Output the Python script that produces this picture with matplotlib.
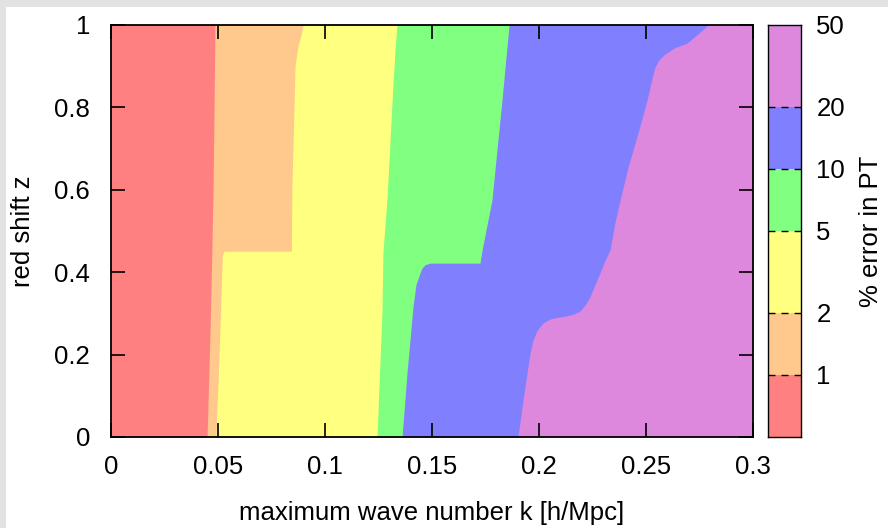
import matplotlib
matplotlib.use('Agg')
import numpy as np
import matplotlib.pyplot as plt
from matplotlib.patches import Rectangle
from matplotlib.ticker import FuncFormatter, NullLocator

plt.rcParams['font.family'] = ['Liberation Sans', 'DejaVu Sans']
plt.rcParams['font.size'] = 18.5

# error levels (% error in PT) and their colours
levels = [0.5, 1, 2, 5, 10, 20, 50]
colors = ['#ff8080', '#ffc88c', '#ffff80', '#80ff80', '#8080ff', '#dd88dd']

# boundaries between levels: k where the error crosses 1, 2, 5, 10, 20 %
z_1 = [0.0, 0.3, 0.6, 1.0]
k_1 = [0.0449, 0.0465, 0.0477, 0.0486]

z_2 = [0.0, 0.2, 0.44, 0.451, 0.451, 0.6, 0.9, 0.95, 0.976, 1.0]
k_2 = [0.0490, 0.0505, 0.0520, 0.0528, 0.0843, 0.0845, 0.0860, 0.0874, 0.0888, 0.0897]

z_5 = [0.0, 0.3, 0.45, 0.58, 0.86, 0.94, 1.0]
k_5 = [0.1243, 0.1266, 0.1271, 0.1290, 0.1318, 0.1327, 0.1336]

z_10 = [0.0, 0.155, 0.235, 0.316, 0.370, 0.398, 0.41, 0.418, 0.422, 0.422, 0.454, 0.575, 0.818, 1.0]
k_10 = [0.1360, 0.1383, 0.1397, 0.1411, 0.1425, 0.1444, 0.1453, 0.1467, 0.1490, 0.1724, 0.1734, 0.1780,
        0.1827, 0.1860]

z_20 = [0.0, 0.073, 0.155, 0.200, 0.235, 0.258, 0.277, 0.286, 0.290, 0.293, 0.298, 0.305, 0.320,
        0.340, 0.370, 0.398, 0.430, 0.454, 0.520, 0.575, 0.655, 0.738, 0.818, 0.870, 0.898,
        0.915, 0.930, 0.945, 0.956, 0.975, 1.0]
k_20 = [0.1902, 0.1921, 0.1944, 0.1957, 0.1972, 0.1990, 0.2019, 0.2050, 0.2080, 0.2120, 0.2160,
        0.2190, 0.2215, 0.2238, 0.2262, 0.2285, 0.2310, 0.2332, 0.2355, 0.2379, 0.2416, 0.2463,
        0.2505, 0.2528, 0.2542, 0.2560, 0.2590, 0.2635, 0.2692, 0.2735, 0.2790]

boundaries = [(z_1, k_1), (z_2, k_2), (z_5, k_5), (z_10, k_10), (z_20, k_20)]

k_ticks = [0, 0.05, 0.1, 0.15, 0.2, 0.25, 0.3]
z_ticks = [0, 0.2, 0.4, 0.6, 0.8, 1.0]
cb_ticks = [1, 2, 5, 10, 20, 50]

fig = plt.figure(figsize=(8.88, 5.28), dpi=100)
fig.patch.set_facecolor('#e2e2e2')
fig.patches.append(Rectangle((6 / 888, 0), 1, (528 - 7) / 528, transform=fig.transFigure,
                             facecolor='white', edgecolor='none', zorder=-10))

ax = fig.add_axes([111 / 888, 91 / 528, 642 / 888, 412 / 528])
cax = fig.add_axes([768 / 888, 91 / 528, 33 / 888, 412 / 528])

# paint from the highest error down, each level covering k < boundary
ax.axvspan(0, 0.3, color=colors[-1], lw=0)
for (zb, kb), col in reversed(list(zip(boundaries, colors[:-1]))):
    ax.fill_betweenx(zb, 0, kb, color=col, lw=0)

ax.set_xlim(0, 0.3)
ax.set_ylim(0, 1)
ax.set_xticks(k_ticks)
ax.set_yticks(z_ticks)
fmt = FuncFormatter(lambda v, p: ('%g' % round(v, 3)))
ax.xaxis.set_major_formatter(fmt)
ax.yaxis.set_major_formatter(fmt)
ax.tick_params(direction='in', length=10, width=1.2, top=True, right=True)
ax.tick_params(axis='y', pad=15)
ax.tick_params(axis='x', pad=13)
for s in ax.spines.values():
    s.set_linewidth(1.3)
ax.set_xlabel('maximum wave number k [h/Mpc]', labelpad=16)
ax.set_ylabel('red shift z', labelpad=14)

# colour key
for lo, hi, col in zip(levels[:-1], levels[1:], colors):
    cax.axhspan(lo, hi, color=col, lw=0)
for t in levels[1:-1]:
    cax.axhline(t, color='black', lw=1.0, ls=(0, (5, 4.4)))
cax.set_yscale('log')
cax.set_ylim(levels[0], levels[-1])
cax.set_xlim(0, 1)
cax.set_xticks([])
cax.yaxis.set_minor_locator(NullLocator())
cax.yaxis.tick_right()
cax.set_yticks(cb_ticks)
cax.set_yticklabels([str(t) for t in cb_ticks])
cax.tick_params(axis='y', length=0, pad=11)
cax.yaxis.set_label_position('right')
cax.set_ylabel('% error in PT', labelpad=10)
for s in cax.spines.values():
    s.set_linewidth(1.0)

plt.savefig('out.png', dpi=100, facecolor=fig.get_facecolor())
